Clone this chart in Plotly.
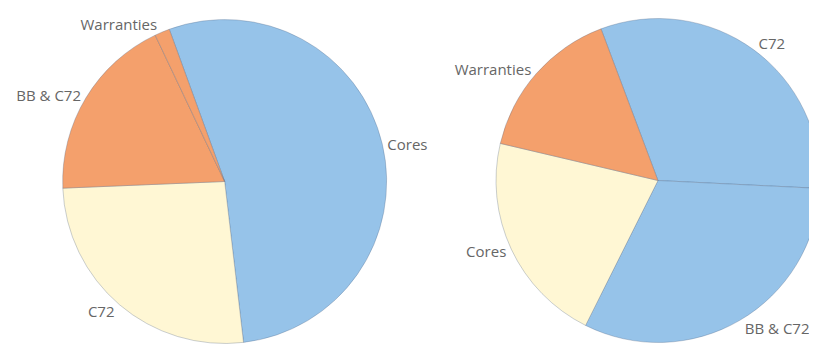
import plotly.graph_objects as go

# Left pie
left_labels = ["Cores", "C72", "BB & C72", "Warranties"]
left_values = [53.7, 26.2, 18.6, 1.5]
left_colors = ["#96c3e9", "#fff7d4", "#f4a06c", "#f4a06c"]

# Right pie
right_labels = ["C72", "BB & C72", "Cores", "Warranties"]
right_values = [31.5, 31.6, 21.3, 15.6]
right_colors = ["#96c3e9", "#96c3e9", "#fff7d4", "#f4a06c"]

W, H = 817, 346
OFF = 8  # page body margin offset

def dom_x(cx, r):
    cx -= OFF
    return [max(0, (cx - r) / W), min(1, (cx + r) / W)]

def dom_y(cy, r):
    cy -= OFF
    yb = H - cy
    return [max(0, (yb - r) / H), min(1, (yb + r) / H)]

line = dict(color="rgba(80,100,130,0.3)", width=1)
font = dict(family="Open Sans, DejaVu Sans, sans-serif", size=15, color="#666666")

fig = go.Figure()
fig.add_trace(go.Pie(
    labels=left_labels, values=left_values, sort=False, direction="clockwise",
    rotation=340, marker=dict(colors=left_colors, line=line),
    textinfo="label", textposition="outside", outsidetextfont=font,
    domain=dict(x=dom_x(226, 163), y=dom_y(181, 163)), showlegend=False,
    hoverinfo="label+percent",
))
fig.add_trace(go.Pie(
    labels=right_labels, values=right_values, sort=False, direction="clockwise",
    rotation=339.4, marker=dict(colors=right_colors, line=line),
    textinfo="label", textposition="outside", outsidetextfont=font,
    domain=dict(x=dom_x(662, 163), y=dom_y(180, 163)), showlegend=False,
    hoverinfo="label+percent",
))
fig.update_layout(
    width=W, height=H, margin=dict(l=0, r=0, t=0, b=0),
    paper_bgcolor="white", plot_bgcolor="white",
)
fig.write_html("out.html")
